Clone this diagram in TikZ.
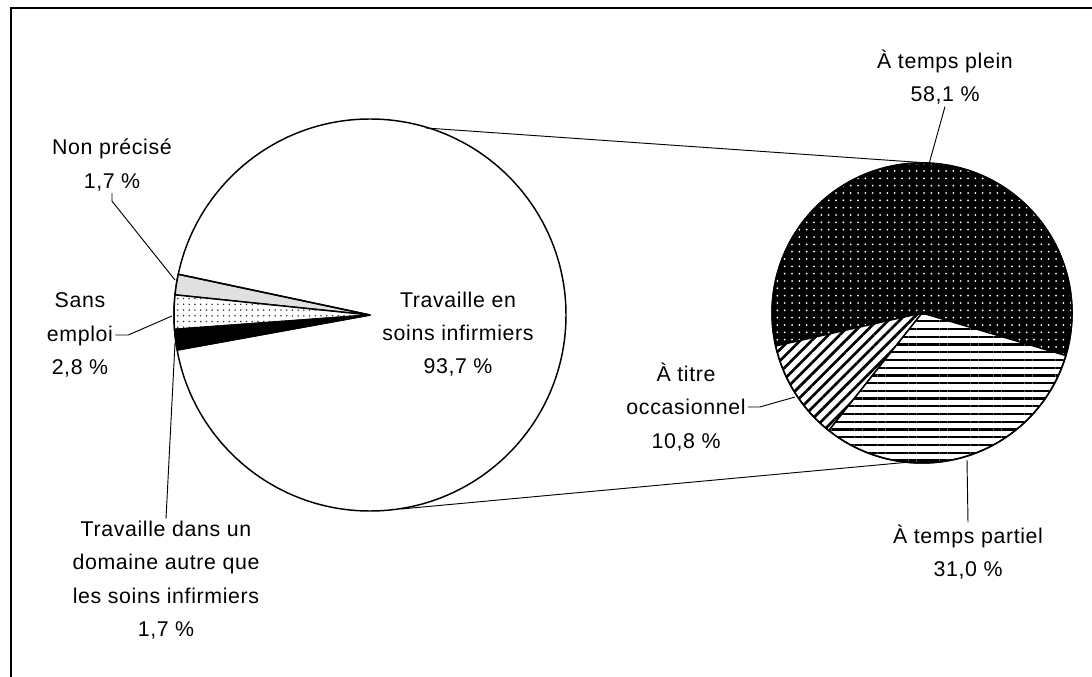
\documentclass[tikz,border=0pt]{standalone}
\usepackage{fontspec}
\setmainfont{Liberation Sans}[LetterSpace=3]
\usetikzlibrary{patterns.meta}

\begin{document}
\begin{tikzpicture}[x=0.75pt,y=0.75pt,yscale=-1,xscale=1,
  slice/.style={draw=black, line width=1.1pt, line join=round},
  leader/.style={draw=black, line width=0.7pt},
  lbl/.style={align=center, inner sep=1.5pt, font=\fontsize{16}{25}\selectfont}]
\useasboundingbox (0,0) rectangle (1092,677);
%Frame
\draw [line width=1.6pt] (11,677) -- (11,8) -- (1092,8) ;
%Pie centres
\coordinate (lc) at (370,315);
\coordinate (rc) at (922,313);

%Shape: Circle [left pie]
\draw [slice, fill=white] (lc) circle (196) ;
%Slice: non precise
\draw [slice, fill={rgb, 255:red, 224; green, 224; blue, 224 }] (lc) -- ++(-168:196) arc (-168:-174.1:196) -- cycle ;
%Slice: sans emploi
\draw [slice, fill=white] (lc) -- ++(-174.1:196) arc (-174.1:-184.2:196) -- cycle ;
\fill [pattern={Dots[distance=4.3pt, radius=0.65pt]}, pattern color=black!80] (lc) -- ++(-174.1:196) arc (-174.1:-184.2:196) -- cycle ;
%Slice: autre domaine
\draw [slice, fill=black] (lc) -- ++(-184.2:196) arc (-184.2:-190.3:196) -- cycle ;

%Slice: temps plein
\draw [slice, fill=black] (rc) -- ++(16.5:150) arc (16.5:-192.7:150) -- cycle ;
\fill [pattern={Dots[distance=5.5pt, radius=0.75pt]}, pattern color=white] (rc) -- ++(16.5:150) arc (16.5:-192.7:150) -- cycle ;
%Slice: occasionnel
\draw [slice, fill=white] (rc) -- ++(-192.7:150) arc (-192.7:-231.6:150) -- cycle ;
\fill [pattern={Lines[angle=45, distance=6pt, line width=2pt]}] (rc) -- ++(-192.7:150) arc (-192.7:-231.6:150) -- cycle ;
%Slice: temps partiel
\draw [slice, fill=white] (rc) -- ++(-231.6:150) arc (-231.6:-343.5:150) -- cycle ;
\fill [pattern={Lines[angle=0, distance=5.8pt, line width=1.7pt]}] (rc) -- ++(-231.6:150) arc (-231.6:-343.5:150) -- cycle ;
%Outline again
\draw [slice] (lc) -- ++(-168:196) (lc) -- ++(-190.3:196) ;
\draw [slice] (rc) circle (150) ;

%Straight Lines [pie to pie]
\coordinate (lt) at (426,128);
\coordinate (rt) at (928,163);
\coordinate (lb) at (401,509);
\coordinate (rb) at (910,462);
\draw [leader] (lt) -- (rt) ;
\draw [leader] (lb) -- (rb) ;

% Text Node
\node [lbl] (np) at (112,165) {Non précisé\\1,7 \%};
% Text Node
\node [lbl] (se) at (80,335) {Sans\\emploi\\2,8 \%};
% Text Node
\node [lbl] (au) at (166,580) {Travaille dans un\\domaine autre que\\les soins infirmiers\\1,7 \%};
% Text Node
\node [lbl] (ti) at (458,334) {Travaille en\\soins infirmiers\\93,7 \%};
% Text Node
\node [lbl] (pl) at (945,77) {À temps plein\\58,1 \%};
% Text Node
\node [lbl] (oc) at (686,407) {À titre\\occasionnel\\10,8 \%};
% Text Node
\node [lbl] (pa) at (968,552) {À temps partiel\\31,0 \%};

%Leaders
\coordinate (np-end) at (175,280);
\coordinate (se-end) at (172,316);
\coordinate (au-end) at (175,343);
\coordinate (pl-end) at (929,164);
\coordinate (oc-end) at (795,397);
\coordinate (pa-end) at (967,460);
\draw [leader] (np.south) -- ++(0,8) -- (np-end) ;
\draw [leader] (se.east) -- ++(13,0) -- (se-end) ;
\draw [leader] (au.north) -- (au-end) ;
\draw [leader] (pl.south) -- (pl-end) ;
\draw [leader] (oc.east) -- ++(12,0) -- (oc-end) ;
\draw [leader] (pa.north) -- (pa-end) ;
\end{tikzpicture}
\end{document}
